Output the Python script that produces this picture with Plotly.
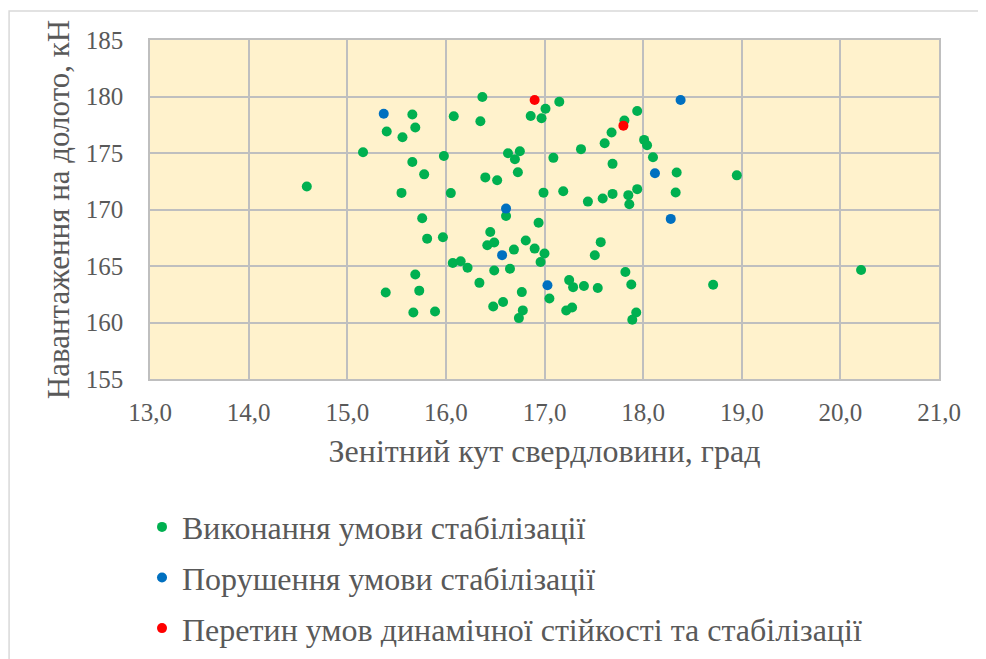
import plotly.graph_objects as go

# Data
green_x = [14.59, 15.66, 16.08, 16.37, 17.01, 16.86, 16.97, 17.15, 16.35, 15.40,
           15.69, 15.56, 15.16, 15.98, 16.63, 16.75, 16.70, 17.09, 15.66, 15.78,
           16.73, 16.40, 16.52, 15.55, 16.05, 16.99, 17.19, 17.44, 17.59, 17.69,
           17.85, 17.86, 17.94, 18.33, 17.94, 17.81, 17.68, 17.61, 17.37, 18.01,
           18.04, 18.10, 17.69, 18.34, 18.95, 16.61, 15.76, 16.94, 15.81, 15.97,
           16.45, 16.42, 16.49, 16.81, 16.69, 16.90, 17.00, 16.96, 16.07, 16.15,
           16.22, 15.69, 16.49, 16.65, 16.34, 15.39, 15.73, 16.77, 17.05, 16.48,
           16.58, 15.67, 15.89, 16.78, 16.74, 17.57, 17.51, 17.82, 20.21, 17.25,
           17.29, 17.40, 17.54, 17.88, 18.71, 17.22, 17.28, 17.93, 17.89]
green_y = [172.03, 178.41, 178.25, 179.96, 178.92, 178.28, 178.08, 179.54, 177.81, 176.91,
           177.25, 176.40, 175.07, 174.74, 174.98, 175.16, 174.45, 174.57, 174.20, 173.11,
           173.30, 172.84, 172.59, 171.47, 171.45, 171.49, 171.62, 170.70, 170.97, 171.38,
           171.27, 170.47, 171.80, 171.50, 178.72, 177.88, 176.82, 175.87, 175.34, 176.16,
           175.69, 174.63, 174.04, 173.28, 173.02, 169.42, 169.23, 168.82, 167.42, 167.54,
           168.01, 166.83, 167.08, 167.25, 166.45, 166.54, 166.11, 165.35, 165.26, 165.42,
           164.84, 164.25, 164.60, 164.75, 163.51, 162.66, 162.82, 162.69, 162.13, 161.41,
           161.81, 160.89, 160.98, 161.07, 160.39, 167.11, 165.95, 164.47, 164.64, 163.75,
           163.13, 163.23, 163.05, 163.36, 163.34, 161.06, 161.33, 160.88, 160.24]

blue_x = [15.37, 16.61, 16.57, 17.03, 18.38, 18.12, 18.28]
blue_y = [178.48, 170.08, 165.96, 163.29, 179.69, 173.21, 169.17]

red_x = [16.90, 17.80]
red_y = [179.69, 177.42]

series_names = ["Виконання умови стабілізації",
                "Порушення умови стабілізації",
                "Перетин умов динамічної стійкості та стабілізації"]

FONT = "Liberation Serif"
GRAY = "#595959"

OFF = 8  # page body margin
W, H = 986, 659
PL, PR, PT, PB = 150 - OFF, 939.5 - OFF, 40 - OFF, 379.3 - OFF   # plot-area in figure px

fig = go.Figure()
for i, (xs, ys, col) in enumerate([(green_x, green_y, "#00B050"),
                                    (blue_x, blue_y, "#0070C0"),
                                    (red_x, red_y, "#FF0000")]):
    fig.add_trace(go.Scatter(
        x=xs, y=ys, mode="markers", name=series_names[i],
        legendgroup=f"g{i}",
        marker=dict(color=col, size=10, line=dict(width=0)),
    ))

pw, ph = PR - PL, PB - PT

fig.update_layout(
    width=W, height=H,
    margin=dict(l=PL, r=W - PR, t=PT, b=H - PB, autoexpand=False),
    paper_bgcolor="white",
    plot_bgcolor="#FFF2CC",
    separators=", ",
    font=dict(family=FONT, color=GRAY, size=25),
    showlegend=True,
    legend=dict(
        x=(142 - OFF - PL) / pw, y=(PB - (500 - OFF)) / ph, xanchor="left", yanchor="top",
        font=dict(family=FONT, size=32, color=GRAY),
        tracegroupgap=6,
        bgcolor="rgba(0,0,0,0)",
        itemwidth=30,
    ),
    xaxis=dict(
        range=[13, 21], dtick=1, tick0=13, tickformat=".1f",
        showgrid=True, gridcolor="#BFBFBF", gridwidth=1.5,
        zeroline=False,
        showline=True, linecolor="#BFBFBF", linewidth=1.5, mirror=True,
        ticks="outside", ticklen=10, tickcolor="rgba(0,0,0,0)",
        tickfont=dict(family=FONT, size=25, color=GRAY),
        title=dict(text="Зенітний кут свердловини, град",
                   font=dict(family=FONT, size=32, color=GRAY), standoff=15),
    ),
    yaxis=dict(
        range=[155, 185], dtick=5, tick0=155,
        showgrid=True, gridcolor="#BFBFBF", gridwidth=1.5,
        zeroline=False,
        showline=True, linecolor="#BFBFBF", linewidth=1.5, mirror=True,
        ticks="outside", ticklen=20, tickcolor="rgba(0,0,0,0)",
        tickfont=dict(family=FONT, size=25, color=GRAY),
        title=dict(text="Навантаження на долото, кН",
                   font=dict(family=FONT, size=31, color=GRAY), standoff=7),
    ),
)

# outer chart-area border
fig.add_shape(type="rect", xref="paper", yref="paper",
              x0=(9 - OFF - PL) / pw, x1=(995 - PL) / pw,
              y0=(PB - 670) / ph, y1=(PB - (11 - OFF)) / ph,
              line=dict(color="#D9D9D9", width=1.5), fillcolor="rgba(0,0,0,0)",
              layer="below")

fig.write_html("out.html")
